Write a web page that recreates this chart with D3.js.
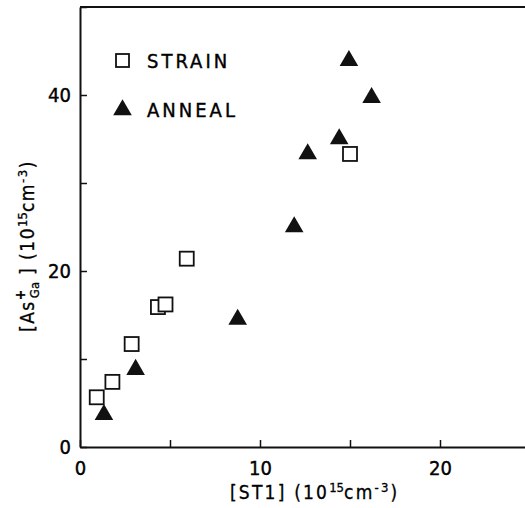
<!DOCTYPE html>
<html>
<head>
<meta charset="utf-8">
<script src="https://cdn.jsdelivr.net/npm/d3@7"></script>
<style>
  body { margin: 0; background: #fff; }
  text { font-family: "DejaVu Sans Condensed", "DejaVu Sans", sans-serif; fill: #000; }
</style>
</head>
<body>
<div id="chart"></div>
<script>
// datos
var strainX = [0.93, 1.8, 2.87, 4.33, 4.75, 5.93, 15.0];
var strainY = [5.65, 7.4, 11.7, 15.9, 16.2, 21.4, 33.3];
var annealX = [1.33, 3.09, 8.76, 11.9, 12.65, 14.4, 14.94, 16.2];
var annealY = [3.67, 8.8, 14.5, 25.0, 33.3, 35.0, 43.9, 39.7];
var xTicks = [0, 5, 10, 15, 20, 25];
var yTicks = [0, 10, 20, 30, 40, 50];
var legendLabels = ["STRAIN", "ANNEAL"];

var W = 525, H = 508;
var svg = d3.select("#chart").append("svg")
    .attr("width", W)
    .attr("height", H);

var x = d3.scaleLinear().domain([0, 25]).range([80, 530]);
var y = d3.scaleLinear().domain([0, 50]).range([447, 7]);

// marco superior
svg.append("line")
    .attr("x1", x(0)).attr("x2", x(25))
    .attr("y1", y(50)).attr("y2", y(50))
    .attr("stroke", "#111").attr("stroke-width", 2);

// eje X con ticks hacia dentro
var gx = svg.append("g")
    .attr("transform", "translate(0," + y(0) + ")")
    .call(d3.axisBottom(x).tickValues(xTicks)
        .tickSizeInner(-7).tickSizeOuter(0).tickPadding(10)
        .tickFormat(function(d) { return d % 10 === 0 && d < 25 ? d : ""; }));

// eje Y
var gy = svg.append("g")
    .attr("transform", "translate(" + x(0) + ",0)")
    .call(d3.axisLeft(y).tickValues(yTicks)
        .tickSizeInner(-7).tickSizeOuter(0).tickPadding(9)
        .tickFormat(function(d) { return d % 20 === 0 && d < 50 ? d : ""; }));

[gx, gy].forEach(function(g) {
    g.select(".domain").attr("stroke", "#111").attr("stroke-width", 2);
    g.selectAll(".tick line").attr("stroke", "#111").attr("stroke-width", 1.5);
    g.selectAll(".tick text")
        .style("font-size", "20px")
        .style("font-family", "'DejaVu Sans Condensed', sans-serif")
        .attr("fill", "#000")
        .attr("stroke", "#000").attr("stroke-width", 0.4);
});
gx.selectAll(".tick text").attr("dy", "0.9em");

// puntos STRAIN (cuadrados abiertos)
svg.selectAll("rect.strain")
    .data(d3.range(strainX.length))
    .enter().append("rect")
    .attr("class", "strain")
    .attr("x", function(i) { return x(strainX[i]) - 7; })
    .attr("y", function(i) { return y(strainY[i]) - 7; })
    .attr("width", 14).attr("height", 14)
    .attr("fill", "#fff")
    .attr("stroke", "#111")
    .attr("stroke-width", 1.8);

// puntos ANNEAL (triangulos rellenos)
var tri = d3.symbol().type(d3.symbolTriangle).size(150);
svg.selectAll("path.anneal")
    .data(d3.range(annealX.length))
    .enter().append("path")
    .attr("class", "anneal")
    .attr("d", tri)
    .attr("transform", function(i) { return "translate(" + x(annealX[i]) + "," + y(annealY[i]) + ")"; })
    .attr("fill", "#111");

// leyenda
var legend = svg.append("g");
legend.append("rect")
    .attr("x", 116).attr("y", 54)
    .attr("width", 13).attr("height", 13)
    .attr("fill", "#fff").attr("stroke", "#111").attr("stroke-width", 1.8);
legend.append("path")
    .attr("d", tri)
    .attr("transform", "translate(122.5,110)")
    .attr("fill", "#111");
legend.selectAll("text")
    .data(legendLabels)
    .enter().append("text")
    .attr("x", 147)
    .attr("y", function(d, i) { return 68 + i * 49; })
    .style("font-size", "20px")
    .style("letter-spacing", "3px")
    .attr("stroke", "#000").attr("stroke-width", 0.4)
    .text(function(d) { return d; });

// titulo eje X
var xt = svg.append("text")
    .attr("x", 230).attr("y", 499)
    .style("font-size", "19px")
    .style("letter-spacing", "2.2px")
    .attr("stroke", "#000").attr("stroke-width", 0.3);
xt.append("tspan").text("[ST1] (10");
xt.append("tspan").attr("dy", -7).style("font-size", "13px").style("letter-spacing", "0px").text("15");
xt.append("tspan").attr("dy", 7).text("cm");
xt.append("tspan").attr("dy", -7).style("font-size", "13px").text("-3");
xt.append("tspan").attr("dy", 7).text(")");

// titulo eje Y
var yt = svg.append("text")
    .attr("transform", "translate(34,332) rotate(-90)")
    .style("font-size", "19px")
    .style("letter-spacing", "1.5px")
    .attr("stroke", "#000").attr("stroke-width", 0.3);
yt.append("tspan").text("[As");
yt.append("tspan").attr("dy", -9).style("font-size", "14px").style("font-weight", "bold").text("+");
yt.append("tspan").attr("dx", -10).attr("dy", 14).style("font-size", "13px").style("letter-spacing", "0px").text("Ga");
yt.append("tspan").attr("dy", -5).text(" ] (10");
yt.append("tspan").attr("dy", -7).style("font-size", "13px").style("letter-spacing", "0px").text("15");
yt.append("tspan").attr("dy", 7).text("cm");
yt.append("tspan").attr("dy", -7).style("font-size", "13px").text("-3");
yt.append("tspan").attr("dy", 7).text(")");
</script>
</body>
</html>
